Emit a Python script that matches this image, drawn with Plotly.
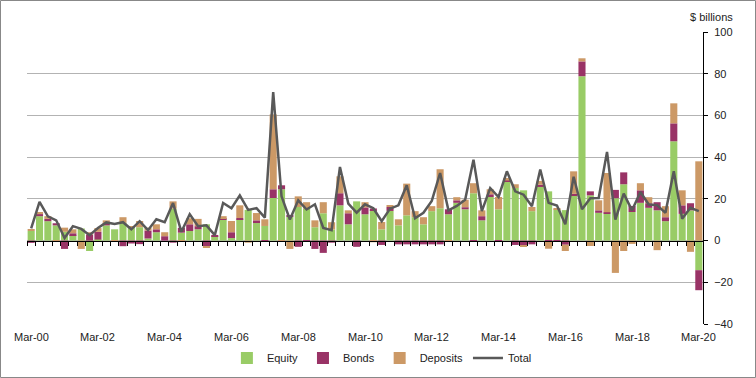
import plotly.graph_objects as go

months = ["Mar", "Jun", "Sep", "Dec"]
quarters = [f"{m}-{y:02d}" for y in range(0, 21) for m in months][:81]

equity = [4.6, 11.7, 9.3, 7.3, 4.2, 2.6, 5.8, -5.0, 0.5, 7.3,
          5.4, 8.5, 6.2, 6.4, 1.0, 4.0, 0.0, 15.3, 3.8, 4.6,
          5.4, 7.8, 2.1, 10.1, 1.2, 10.2, 14.7, 8.4, 7.0, 20.4,
          24.6, 11.3, 16.1, 15.3, 6.4, 13.1, 5.3, 16.9, 7.8, 18.8,
          12.6, 14.6, 5.4, 14.2, 7.3, 12.1, 11.2, 7.8, 14.1, 15.5,
          12.6, 18.1, 15.0, 22.7, 9.7, 20.9, 15.0, 28.1, 25.2, 24.1,
          14.1, 25.7, 23.6, 15.0, 14.6, 21.7, 78.8, 21.7, 13.3, 12.9,
          20.3, 27.0, 13.7, 18.1, 15.7, 14.5, 9.3, 47.6, 12.8, 14.5,
          -14.2]
bonds = [-1.1, 1.0, 1.1, 1.0, -4.0, 0.9, 0.0, 2.9, 3.7, 1.2,
         0.0, -2.7, -1.4, -1.7, 3.8, 1.4, 2.1, -1.0, 2.3, 3.2,
         1.5, -2.7, 0.6, 0.7, 2.8, 0.6, 0.0, 1.3, -0.5, 4.2,
         1.9, 0.7, -3.0, -0.5, -4.0, -5.9, -1.0, 5.8, 5.3, -3.0,
         3.3, 0.8, -2.1, 1.9, -1.8, -1.8, -1.8, -1.8, -1.8, -1.8,
         2.4, 1.2, 1.0, -0.5, 2.0, 1.3, -0.5, 0.7, -2.1, -2.5,
         -1.8, 1.1, -0.5, -0.5, -2.0, 0.7, 7.1, 1.9, 1.2, 0.7,
         4.0, 5.7, 2.9, 6.0, 2.2, 3.9, 1.9, 8.6, 4.1, 3.4,
         -9.6]
deposits = [0.5, 1.0, 1.3, -0.5, 2.0, 1.9, -4.0, 1.1, 1.8, 1.2,
            -0.5, 2.7, 0.5, 3.0, 1.4, 2.4, 1.9, 3.5, -0.5, 2.9,
            3.5, -0.8, 0.0, 0.9, 5.4, 6.1, -1.0, 3.5, 3.2, 35.9,
            -0.5, -4.0, 5.1, 3.1, 3.3, 5.3, 3.5, 8.1, 1.4, 0.0,
            2.5, -0.8, 3.5, 0.5, 2.9, 15.2, 2.9, 3.4, 2.4, 18.7,
            -0.5, 1.5, 3.6, 4.8, 2.8, 2.4, 5.9, 1.2, 1.8, -0.5,
            2.0, 1.8, -3.4, 0.4, -3.0, 10.8, 1.5, -2.6, 4.8, 18.8,
            -15.5, -5.0, -1.6, 3.4, 2.9, -4.6, 5.3, 9.6, 7.2, -5.4,
            38.0]
total = [5.8, 18.5, 11.6, 9.7, 1.2, 6.9, 5.6, 2.6, 6.0, 8.7,
         7.9, 8.8, 5.4, 9.3, 5.0, 10.2, 8.8, 18.0, 4.2, 12.6,
         6.9, 7.3, 2.6, 18.0, 15.5, 21.7, 14.7, 15.5, 11.0, 71.2,
         21.2, 10.1, 19.3, 14.9, 17.4, 6.1, 5.0, 35.3, 17.7, 13.4,
         17.4, 15.5, 9.3, 15.3, 16.9, 26.5, 10.7, 13.3, 19.0, 32.4,
         14.5, 16.6, 19.6, 38.8, 14.1, 25.2, 20.9, 33.2, 23.6, 22.0,
         16.5, 34.1, 18.1, 16.8, 7.8, 30.6, 15.0, 20.3, 20.4, 42.5,
         10.1, 22.5, 14.5, 23.3, 17.3, 17.0, 13.3, 33.2, 10.5, 15.7,
         14.1]

label_every = 8
tick_labels = quarters[::label_every]

W, H = 756, 378
ML, MR, MT, MB = 27, 53, 32, 54
PW, PH = W - ML - MR, H - MT - MB
font = "Liberation Sans, Arial, sans-serif"

fig = go.Figure()
fig.add_bar(x=quarters, y=equity, name="Equity", marker_color="#99CC66", marker_line_width=0)
fig.add_bar(x=quarters, y=bonds, name="Bonds", marker_color="#993366", marker_line_width=0)
fig.add_bar(x=quarters, y=deposits, name="Deposits", marker_color="#CC9966", marker_line_width=0)
fig.add_scatter(x=quarters, y=total, name="Total", mode="lines",
                line=dict(color="#595959", width=2.5))

ymin, ymax = -40, 100
for lab in tick_labels:
    fig.add_annotation(x=lab, xref="x", y=-13 / PH, yref="paper",
                       text=lab, showarrow=False, yanchor="middle",
                       font=dict(family=font, size=11, color="#222222"))

fig.add_annotation(x=(712 - ML) / PW, xref="paper", y=(PH + MT - 17) / PH, yref="paper",
                   text="$ billions", showarrow=False, xanchor="center", yanchor="middle",
                   font=dict(family=font, size=11, color="#222222"))

fig.add_shape(type="rect", xref="paper", yref="paper",
              x0=(0.5 - ML) / PW, x1=(W - 0.5 - ML) / PW,
              y0=(PH + MT - (H - 0.5)) / PH, y1=(PH + MT - 0.5) / PH,
              line=dict(color="#888888", width=1), layer="above")

fig.update_layout(
    width=W, height=H,
    margin=dict(l=ML, r=MR, t=MT, b=MB, autoexpand=False),
    barmode="relative", bargap=0.15,
    plot_bgcolor="white", paper_bgcolor="white",
    font=dict(family=font, size=11, color="#222222"),
    showlegend=True,
    legend=dict(orientation="h", x=0.525, xanchor="center", y=-34 / PH, yanchor="middle",
                traceorder="normal", font=dict(size=11), itemwidth=30),
    xaxis=dict(type="category", anchor="free", position=(0 - ymin) / (ymax - ymin),
               range=[-0.5, len(quarters) - 0.5], autorange=False,
               showline=True, linecolor="black", linewidth=1,
               ticks="outside", ticklen=4, tickcolor="black", tickson="boundaries",
               showticklabels=False, showgrid=False, tickmode="linear", dtick=1,
               automargin=False),
    yaxis=dict(side="right", range=[ymin, ymax], dtick=20, tick0=0,
               showgrid=True, gridcolor="#B3B3B3", gridwidth=1,
               zeroline=False, showline=True, linecolor="black", linewidth=1,
               ticks="outside", ticklen=4, tickcolor="black", ticklabelstandoff=4,
               tickfont=dict(size=11, color="#222222"), automargin=False),
)

fig.write_html("out.html", config={"displayModeBar": False},
               post_script="document.body.style.margin='0px';")
